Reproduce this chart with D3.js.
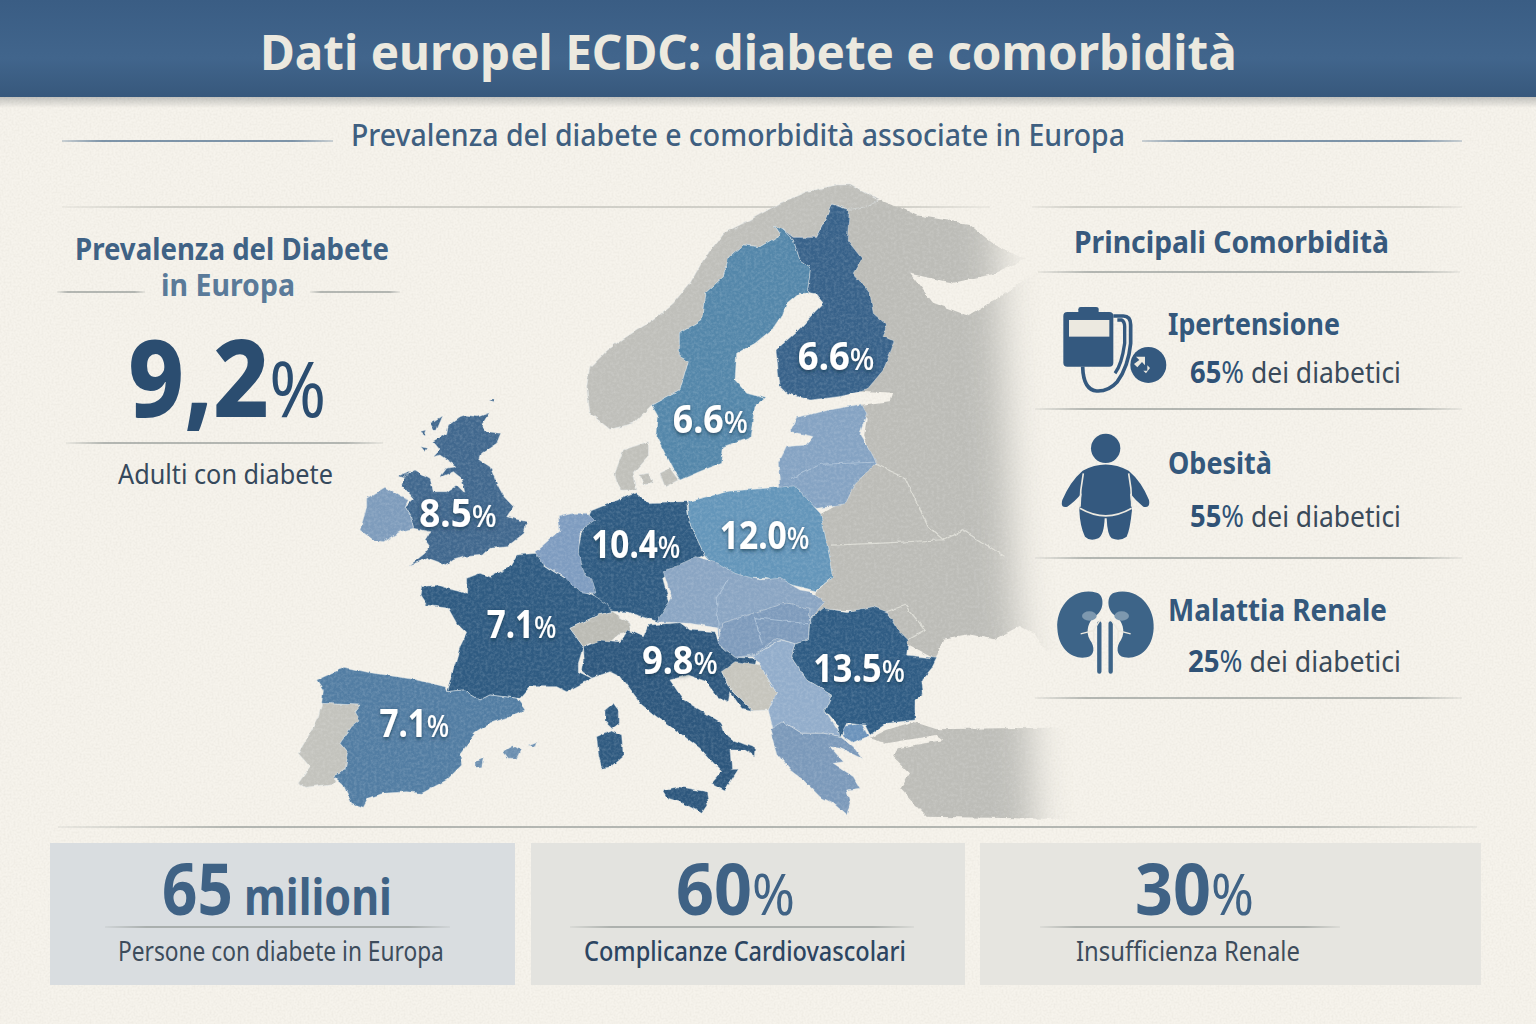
<!DOCTYPE html>
<html lang="it"><head><meta charset="utf-8">
<script src="https://cdnjs.cloudflare.com/ajax/libs/d3/7.8.5/d3.min.js"></script>
<style>html,body{margin:0;padding:0;background:#f6f3ec}svg{display:block}text{font-family:"Noto Sans",sans-serif}</style>
</head><body><svg id="c" width="1536" height="1024"></svg>
<script>
// ---- data ----
const labelledCountries=["Finlandia","Svezia","Regno Unito","Germania","Polonia","Francia","Italia","Romania","Spagna"];
const prevalence=[6.6,6.6,8.5,10.4,12.0,7.1,9.8,13.5,7.1];
const comorbidityNames=["Ipertensione","Obesità","Malattia Renale"];
const comorbidityShares=[65,55,25];
const kpiValues=["65","60","30"];
const kpiUnits=[" milioni","%","%"];
const kpiLabels=["Persone con diabete in Europa","Complicanze Cardiovascolari","Insufficienza Renale"];
// outlines, each read on one survey sheet of the map
const ringsNorway=[[[0,560],[50,510],[110,470],[190,420],[250,370],[300,310],[340,240],[400,160],[480,120],[570,70],[650,35],[740,15],[780,15],[865,60],[830,80],[780,88],[725,72],[705,120],[680,172],[610,172],[580,150],[550,135],[570,165],[510,200],[460,195],[415,235],[400,290],[345,340],[335,420],[268,460],[268,530],[295,545],[270,630],[185,675],[130,730],[60,748],[0,700],[-10,620]]];
const ringsSweden=[[[550,135],[580,150],[610,180],[630,240],[662,262],[652,340],[625,340],[590,370],[575,410],[555,440],[495,490],[440,520],[435,600],[470,640],[525,655],[495,680],[480,770],[400,800],[395,850],[340,870],[270,900],[245,860],[200,770],[205,710],[185,675],[270,630],[295,545],[268,530],[268,460],[335,420],[345,340],[400,290],[415,235],[460,195],[510,200],[570,165]]];
const ringsFinland=[[[725,72],[778,90],[772,180],[815,235],[790,280],[840,340],[850,400],[890,435],[880,470],[915,482],[880,570],[830,630],[745,650],[660,660],[590,640],[570,620],[558,510],[625,450],[675,395],[700,370],[680,345],[652,340],[662,262],[630,240],[610,180],[580,150],[610,172],[680,172],[705,120]]];
const ringsBaltics=[[[605,745],[620,712],[650,705],[720,690],[815,672],[830,700],[810,760],[835,800],[860,850],[795,910],[765,975],[680,985],[570,930],[565,850],[590,800],[650,795],[672,770],[605,755]]];
const ringsDenmark=[[[75,880],[100,810],[175,785],[175,830],[130,880],[140,930],[95,930],[80,905]],[[210,880],[240,865],[265,900],[225,920]],[[150,885],[175,880],[190,910],[160,915]]];
const ringsGreatBritain=[[[330,50],[345,45],[385,50],[418,38],[395,75],[412,95],[452,100],[440,130],[395,160],[388,180],[420,200],[440,250],[462,290],[490,320],[470,350],[530,365],[522,400],[490,425],[470,440],[420,445],[400,465],[345,470],[310,480],[290,495],[235,475],[180,495],[225,460],[240,440],[225,420],[240,395],[190,385],[180,345],[165,320],[190,295],[155,255],[165,225],[195,210],[240,235],[250,275],[290,275],[320,255],[345,280],[335,235],[310,215],[270,232],[290,205],[320,200],[270,165],[250,170],[270,150],[250,125],[290,100],[295,75]],[[240,70],[275,48],[255,95]],[[213,95],[230,90],[225,105]],[[210,140],[230,145],[222,155]],[[418,0],[436,0],[430,8]],[[145,228],[180,212],[165,235]]];
const ringsIreland=[[[50,295],[105,262],[150,290],[175,300],[165,320],[180,345],[190,385],[150,395],[100,425],[70,420],[30,390],[45,340],[50,320]]];
const ringsGermany=[[[695,780],[720,802],[797,800],[802,850],[832,928],[780,960],[750,985],[768,1062],[740,1090],[680,1066],[640,1064],[610,1018],[580,940],[590,880],[610,822]]];
const ringsFrance=[[[395,290],[440,285],[490,300],[530,310],[530,265],[570,250],[600,262],[660,230],[680,195],[740,190],[760,225],[830,270],[900,310],[950,340],[965,365],[925,375],[840,415],[880,470],[865,520],[865,545],[905,565],[830,605],[800,590],[720,590],[690,625],[600,615],[570,630],[520,600],[470,605],[480,570],[510,470],[530,430],[500,400],[475,355],[410,345],[390,315]]];
const ringsSwitzerland=[[[840,415],[925,375],[965,365],[1020,400],[1025,425],[990,430],[950,465],[900,460],[880,470]]];
const ringsSpain=[[[80,570],[165,532],[240,548],[370,568],[465,590],[470,605],[520,600],[570,630],[600,615],[680,625],[705,660],[660,680],[600,700],[555,730],[510,790],[515,825],[470,870],[395,910],[350,905],[280,910],[235,925],[220,952],[185,940],[160,885],[130,858],[165,840],[175,790],[150,760],[185,710],[210,690],[195,665],[210,645],[95,640],[100,600]]];
const ringsPortugal=[[[95,640],[210,645],[195,665],[212,690],[185,712],[150,760],[175,790],[165,840],[130,858],[140,880],[45,892],[25,880],[60,830],[25,790],[60,730],[85,680]]];
const ringsBalearics=[[[640,785],[670,767],[692,780],[680,805],[655,805]],[[715,765],[740,755],[735,770]],[[558,815],[580,805],[575,830],[558,832]]];
const ringsCorsicaSardinia=[[[945,660],[970,640],[985,660],[985,700],[965,715],[945,695]],[[920,740],[965,720],[995,735],[1000,800],[965,830],[935,835],[925,790]]];
const ringsBenelux=[[[735,185],[760,165],[810,120],[805,80],[850,70],[890,70],[915,90],[885,110],[870,130],[865,190],[885,255],[900,260],[915,310],[870,305],[825,265],[755,220]]];
const ringsItaly=[[[-110,322],[-60,300],[0,305],[25,270],[70,290],[85,255],[180,248],[210,270],[285,275],[295,310],[345,352],[410,355],[405,378],[350,378],[305,395],[330,445],[400,512],[365,505],[330,455],[325,485],[295,470],[260,425],[205,405],[150,420],[190,480],[300,545],[310,575],[340,600],[405,625],[403,648],[375,630],[330,630],[335,688],[355,688],[315,750],[275,730],[305,695],[240,625],[180,580],[110,530],[60,490],[0,410],[-30,395],[-84,414],[-113,395],[-107,360]],[[130,750],[175,740],[260,755],[265,790],[245,820],[190,790],[145,775]]];
const ringsBosnia=[[[305,395],[345,365],[420,375],[470,460],[445,510],[400,512],[330,445]]];
const ringsCentral=[[[130,95],[230,50],[295,70],[345,100],[420,120],[480,115],[540,150],[570,155],[615,185],[570,235],[565,300],[525,312],[480,300],[430,330],[400,350],[345,352],[295,310],[300,265],[210,250],[110,245],[155,175]]];
const ringsHungary=[[[400,220],[490,190],[570,205],[565,300],[525,312],[470,295],[400,345],[345,352],[295,310],[305,250]]];
const ringsSerbia=[[[420,375],[400,345],[430,330],[480,300],[525,312],[515,350],[560,420],[635,465],[615,510],[665,590],[610,580],[545,580],[490,545],[465,590],[445,510],[470,460]]];
const ringsGreece=[[[450,570],[490,545],[545,580],[610,580],[665,590],[700,620],[725,655],[660,625],[630,620],[670,665],[640,670],[700,710],[720,745],[680,750],[690,790],[680,825],[640,790],[600,770],[550,720],[510,690],[470,640]]];
const ringsMacedonia=[[[665,560],[725,550],[745,590],[700,610],[670,590]]];
const ringsRomania=[[[570,235],[610,205],[680,215],[760,200],[800,215],[830,265],[865,300],[860,345],[950,355],[935,385],[905,420],[910,460],[885,480],[885,540],[800,550],[750,585],[735,555],[680,550],[660,590],[650,550],[615,510],[635,465],[560,420],[515,350],[525,312],[565,300]]];
const ringsTurkey=[[[750,595],[800,570],[880,545],[950,568],[1500,560],[1500,840],[920,830],[880,790],[840,745],[870,700],[820,650],[830,625],[970,600],[950,585],[800,610]]];
const ringsPoland=[[[800,800],[880,775],[1010,762],[1060,830],[1085,980],[1050,1015],[950,985],[875,985],[832,928],[802,850]]];
const ringsEast=[[[1090,90],[1180,72],[1250,110],[1350,130],[1400,180],[1460,215],[1400,250],[1320,272],[1235,250],[1280,320],[1350,352],[1420,300],[1500,230],[1568,200],[1568,1150],[1500,1160],[1480,1120],[1450,1100],[1400,1132],[1350,1120],[1300,1130],[1285,1180],[1222,1140],[1190,1065],[1080,1060],[1040,1095],[1050,1018],[1085,980],[1060,830],[1100,800],[1120,745],[1165,705],[1145,640],[1150,600],[1130,568],[1195,558],[1200,540],[1080,530],[1150,495],[1185,420],[1170,370],[1140,320],[1110,270],[1115,200],[1090,170],[1095,105]]];
const bordersEast=[[[1165,708],[1225,742],[1270,860],[1300,892],[1340,870],[1420,932]],[[1080,905],[1180,900],[1300,892]],[[1190,1065],[1225,1050],[1265,1110],[1222,1140]]];
const bordersCentral=[[[880,985],[855,1030],[860,1125]],[[945,1145],[930,1080],[1040,1095]],[[1000,745],[1060,710],[1165,705]]];
const sheets={C:[590,180],A:[350,400],D:[290,490],B:[620,540]};
const regionGroups=[
 {sheet:"G",rings:ringsEast,fill:"#bcbcb7",fade:true},{sheet:"B",rings:ringsTurkey,fill:"#bdbdb8",fade:true},
 {sheet:"C",rings:ringsNorway,fill:"#bfbfba"},{sheet:"C",rings:ringsDenmark,fill:"#c0c0ba"},{sheet:"D",rings:ringsPortugal,fill:"#c3c3bd"},
 {sheet:"C",rings:ringsSweden,fill:"#5487aa"},{sheet:"C",rings:ringsFinland,fill:"#38628a"},{sheet:"C",rings:ringsBaltics,fill:"#85a3c3"},
 {sheet:"A",rings:ringsGreatBritain,fill:"#41688e"},{sheet:"A",rings:ringsIreland,fill:"#7e9cbc"},
 {sheet:"G",rings:ringsGermany,fill:"#2f5b82"},{sheet:"D",rings:ringsFrance,fill:"#2f5b82"},{sheet:"D",rings:ringsBenelux,fill:"#7e9cc0"},
 {sheet:"D",rings:ringsSwitzerland,fill:"#bbbbb4"},{sheet:"D",rings:ringsSpain,fill:"#527da3"},{sheet:"D",rings:ringsBalearics,fill:"#6c8fb0"},
 {sheet:"D",rings:ringsCorsicaSardinia,fill:"#2f5a80"},
 {sheet:"G",rings:ringsPoland,fill:"#6496ba"},{sheet:"B",rings:ringsCentral,fill:"#8aa5c3"},{sheet:"B",rings:ringsHungary,fill:"#7e9bbc"},
 {sheet:"B",rings:ringsItaly,fill:"#2d577d"},{sheet:"B",rings:ringsBosnia,fill:"#c6c5bd"},
 {sheet:"B",rings:ringsSerbia,fill:"#92adcb"},{sheet:"B",rings:ringsGreece,fill:"#7b99ba"},{sheet:"B",rings:ringsMacedonia,fill:"#6a92bb"},
 {sheet:"B",rings:ringsRomania,fill:"#2f5c84"}];
const labelAnchorsMap=[[1015,482],[770,635],[273,860],[610,935],[862,915],[405,1130],[710,1215],[1045,1235],[195,1367]];
const labelRightMap=[1165,917,425,785,1038,542,858,1225,332];

// ---- helpers ----
const svg=d3.select("#c"),defs=svg.append("defs");
const ink="#3f6285",navy="#2b4d70",slate="#3a4a5a";
function fitText(x0,x1,base,runs){
  const t=svg.append("text").attr("x",0).attr("y",0).style("white-space","pre");
  runs.forEach(r=>t.append("tspan").text(r.t).attr("font-size",r.s).attr("font-weight",r.w||400).attr("fill",r.c||slate));
  const w=t.node().getComputedTextLength();
  t.attr("transform",`translate(${x0},${base}) scale(${(x1-x0)/w},1)`);
  return t;
}
function rule(x0,x1,y,id,w){svg.append("rect").attr("x",x0).attr("y",y-(w||1.5)/2).attr("width",x1-x0).attr("height",w||1.5).attr("fill",`url(#${id||"ruleG"})`);}
function hgrad(id,stops){const g=defs.append("linearGradient").attr("id",id);stops.forEach(s=>g.append("stop").attr("offset",s[0]).attr("stop-color",s[1]).attr("stop-opacity",s[2]==null?1:s[2]));}
hgrad("ruleG",[["0%","#8f9592",.15],["12%","#8f9592",.85],["88%","#8f9592",.85],["100%","#8f9592",.15]]);
hgrad("ruleBlue",[["0%","#4f6f8e",.35],["15%","#4f6f8e",.95],["85%","#4f6f8e",.95],["100%","#4f6f8e",.35]]);
hgrad("ruleFaint",[["0%","#b9b9b2",.2],["10%","#b9b9b2",.8],["90%","#b9b9b2",.8],["100%","#b9b9b2",.2]]);
const vg=defs.append("linearGradient").attr("id","banner").attr("x1",0).attr("x2",0).attr("y1",0).attr("y2",1);
[["0%","#3a5d84"],["60%","#41658c"],["100%","#37587c"]].forEach(s=>vg.append("stop").attr("offset",s[0]).attr("stop-color",s[1]));
const sh=defs.append("linearGradient").attr("id","bshadow").attr("x1",0).attr("x2",0).attr("y1",0).attr("y2",1);
sh.append("stop").attr("offset","0%").attr("stop-color","#6b6f6f").attr("stop-opacity",.4);
sh.append("stop").attr("offset","100%").attr("stop-color","#6b6f6f").attr("stop-opacity",0);
defs.append("filter").attr("id","paper").attr("x",0).attr("y",0).attr("width","100%").attr("height","100%").attr("color-interpolation-filters","sRGB").html(`<feTurbulence type="fractalNoise" baseFrequency="0.5" numOctaves="3" seed="4"/><feColorMatrix values="0 0 0 0 .5  0 0 0 0 .48  0 0 0 0 .42  .14 0 0 0 -.05"/>`);
defs.append("filter").attr("id","rough").attr("x","-5%").attr("y","-5%").attr("width","110%").attr("height","110%").attr("color-interpolation-filters","sRGB").html(`<feTurbulence type="fractalNoise" baseFrequency="0.11" numOctaves="3" seed="7" result="n"/><feDisplacementMap in="SourceGraphic" in2="n" scale="4" xChannelSelector="R" yChannelSelector="G" result="d"/><feTurbulence type="fractalNoise" baseFrequency="0.35" numOctaves="3" seed="11"/><feColorMatrix values="0 0 0 0 1  0 0 0 0 1  0 0 0 0 1  .3 0 0 0 -.11"/><feComposite in2="d" operator="in" result="m"/><feMerge><feMergeNode in="d"/><feMergeNode in="m"/></feMerge>`);
defs.append("filter").attr("id","lab").attr("x","-15%").attr("y","-25%").attr("width","130%").attr("height","150%").html(`<feDropShadow dx="0" dy="1.5" stdDeviation="2" flood-color="#12263c" flood-opacity=".7"/>`);
defs.append("filter").attr("id","blur").attr("x","-30%").attr("y","-10%").attr("width","160%").attr("height","120%").html(`<feGaussianBlur stdDeviation="18"/>`);
const fade=defs.append("mask").attr("id","fade").attr("maskUnits","userSpaceOnUse").attr("x",0).attr("y",0).attr("width",1536).attr("height",1024);
fade.append("path").attr("d",d3.line()([[500,60],[990,60],[1005,400],[1015,600],[1030,720],[1040,960],[500,960]])+"Z").attr("fill","#fff").attr("filter","url(#blur)");

// ---- page ----
svg.append("rect").attr("width",1536).attr("height",1024).attr("fill","#f6f3ec");
svg.append("rect").attr("width",1536).attr("height",1024).attr("filter","url(#paper)");
svg.append("rect").attr("y",96).attr("width",1536).attr("height",12).attr("fill","url(#bshadow)");
svg.append("rect").attr("width",1536).attr("height",97).attr("fill","url(#banner)");
fitText(260,1237,70,[{t:"Dati europel ECDC: diabete e comorbidità",s:48,w:700,c:"#ece9df"}]);
fitText(351,1125,146,[{t:"Prevalenza del diabete e comorbidità associate in Europa",s:31,w:500,c:"#3f5f80"}]);
rule(62,333,141,"ruleBlue");rule(1142,1462,141,"ruleBlue");
rule(62,990,207,"ruleFaint");rule(1032,1462,207,"ruleFaint");

// ---- map ----
const mx=d3.scaleLinear().domain([0,1568]).range([280,1080]);
const my=d3.scaleLinear().domain([0,1568]).range([170,820]);
const pathG=d3.geoPath(d3.geoTransform({point(x,y){this.stream.point(mx(x),my(y));}}));
const sheetPath=k=>{
  if(k==="G")return pathG;
  const [x0,y0]=sheets[k];
  const sx=d3.scaleLinear().domain([0,3]).range([x0,x0+1]),sy=d3.scaleLinear().domain([0,3]).range([y0,y0+1]);
  return d3.geoPath(d3.geoTransform({point(x,y){this.stream.point(sx(x),sy(y));}}));
};
const toGeo=rs=>({type:"MultiPolygon",coordinates:rs.map(r=>[r.concat([r[0]])])});
const mapG=svg.append("g");
const fadeG=mapG.append("g").attr("mask","url(#fade)").append("g").attr("filter","url(#rough)");
const solidG=mapG.append("g").attr("filter","url(#rough)");
regionGroups.forEach(g=>{(g.fade?fadeG:solidG).append("path").attr("d",sheetPath(g.sheet)(toGeo(g.rings))).attr("fill",g.fill).attr("stroke",g.fade?"none":"#dfe5e8").attr("stroke-width",.6).attr("stroke-opacity",.8);});
fadeG.append("path").attr("d",pathG({type:"MultiLineString",coordinates:bordersEast})).attr("fill","none").attr("stroke","#dcdcd5").attr("stroke-width",1.2);
solidG.append("path").attr("d",pathG({type:"MultiLineString",coordinates:bordersCentral})).attr("fill","none").attr("stroke","#a9bfd6").attr("stroke-width",1.1);
labelledCountries.forEach((n,i)=>{
  const a=labelAnchorsMap[i];
  fitText(mx(a[0]),mx(labelRightMap[i]),my(a[1]),[{t:prevalence[i].toFixed(1),s:39,w:700,c:"#fff"},{t:"%",s:31,w:500,c:"#fff"}]).attr("filter","url(#lab)").attr("aria-label",n);
});

// ---- left panel ----
fitText(75,389,260,[{t:"Prevalenza del Diabete",s:30,w:700,c:ink}]);
fitText(161,295,296,[{t:"in Europa",s:30,w:700,c:"#5a7a99"}]);
rule(57,145,292,"ruleG");rule(310,400,292,"ruleG");
fitText(128,326,417,[{t:"9,2",s:108,w:800,c:navy},{t:"%",s:76,w:400,c:navy}]);
rule(66,383,443,"ruleG");
fitText(118,333,484,[{t:"Adulti con diabete",s:28,w:400,c:"#36495c"}]);

// ---- right panel ----
fitText(1074,1389,253,[{t:"Principali Comorbidità",s:30,w:700,c:"#37597d"}]);
rule(1038,1460,272,"ruleG");
const nameX=[1340,1272,1387],nameY=[335,474,621],shareX=[1190,1190,1188],shareY=[383,527,672],lineY=[409,558,698];
comorbidityNames.forEach((n,i)=>{
  fitText(1168,nameX[i],nameY[i],[{t:n,s:30,w:700,c:"#34587c"}]);
  fitText(shareX[i],1401,shareY[i],[{t:comorbidityShares[i],s:30,w:700,c:"#2f5276"},{t:"%",s:30,w:400,c:"#2f5276"},{t:" dei diabetici",s:29,w:400,c:slate}]);
  rule(1035,1462,lineY[i],"ruleG");
});
const ic=svg.append("g").attr("transform","translate(1030,210) scale(.3333)").attr("fill","#34597f");
// pressure monitor
ic.append("path").attr("d","M145 310V298Q145 291 152 291H198Q206 291 206 298V310Z");
ic.append("rect").attr("x",100).attr("y",306).attr("width",150).attr("height",164).attr("rx",12);
ic.append("rect").attr("x",117).attr("y",330).attr("width",121).attr("height",50).attr("fill","#ece9e0");
ic.append("path").attr("d","M250 318H280Q302 318 302 345V400Q295 470 262 515Q235 545 200 543Q160 540 158 470").attr("fill","none").attr("stroke","#34597f").attr("stroke-width",11);
ic.append("path").attr("d","M262 330H275Q284 335 284 350V400Q275 465 255 490").attr("fill","none").attr("stroke","#34597f").attr("stroke-width",10);
ic.append("circle").attr("cx",355).attr("cy",465).attr("r",54);
ic.append("path").attr("d","M318 440H345V466L336 456L322 472L312 462L328 450ZM340 482H352V466L360 474L348 490Z").attr("fill","#ece9e0");
// body
ic.append("circle").attr("cx",227).attr("cy",715).attr("r",44);
ic.append("path").attr("d","M158 782Q227 745 296 782Q335 815 357 870Q362 895 340 890Q315 870 300 850L306 900Q300 960 290 980Q270 995 245 985Q232 975 230 925H224Q222 975 205 985Q180 995 165 980Q150 950 148 900L155 850Q135 875 112 890Q90 895 97 870Q120 815 158 782Z");
ic.append("path").attr("d","M150 895Q227 940 305 895M160 790Q150 840 150 890M296 790Q306 840 305 890").attr("fill","none").attr("stroke","#ece9e0").attr("stroke-width",5);
// kidneys
const kidney="M200 1148C130 1130 78 1190 82 1255C85 1320 130 1350 170 1342C195 1338 195 1310 180 1290C165 1265 175 1230 200 1215C222 1200 225 1155 200 1148Z";
const kid=ic.append("g").attr("fill","#3d6488");
kid.append("path").attr("d",kidney);
kid.append("path").attr("d",kidney).attr("transform","translate(453,0) scale(-1,1)");
kid.append("ellipse").attr("cx",178).attr("cy",1218).attr("rx",22).attr("ry",14).attr("fill","#7d98af");
kid.append("ellipse").attr("cx",275).attr("cy",1218).attr("rx",22).attr("ry",14).attr("fill","#7d98af");
kid.append("path").attr("d","M208 1240V1385M242 1240V1385").attr("fill","none").attr("stroke","#3d6488").attr("stroke-width",13).attr("stroke-linecap","round");
kid.append("path").attr("d","M214 1225L190 1262L152 1272M190 1262L192 1298M240 1225L265 1262L302 1272M265 1262L263 1298").attr("fill","none").attr("stroke","#ece9e0").attr("stroke-width",4);

// ---- bottom ----
rule(58,1477,827,"ruleG");
const boxX=[50,531,980],boxW=[465,434,501],boxFill=["#d9dde0","#e3e3df","#e6e5e0"];
const valX=[[162,392],[676,795],[1135,1254]],ruleX=[[105,450],[570,914],[1040,1340]],subX=[[118,444],[584,906],[1076,1300]];
const subW=[400,500,400],subC=["#3d4c5c","#2c4561","#3d4c5c"];
boxX.forEach((x,i)=>{
  svg.append("rect").attr("x",x).attr("y",843).attr("width",boxW[i]).attr("height",142).attr("fill",boxFill[i]);
  const unit=kpiUnits[i];
  fitText(valX[i][0],valX[i][1],915,[{t:kpiValues[i],s:72,w:700,c:ink},{t:unit,s:unit==="%"?56:50,w:unit==="%"?400:700,c:ink}]);
  rule(ruleX[i][0],ruleX[i][1],927,"ruleG");
  fitText(subX[i][0],subX[i][1],961,[{t:kpiLabels[i],s:27,w:subW[i],c:subC[i]}]);
});
</script></body></html>
